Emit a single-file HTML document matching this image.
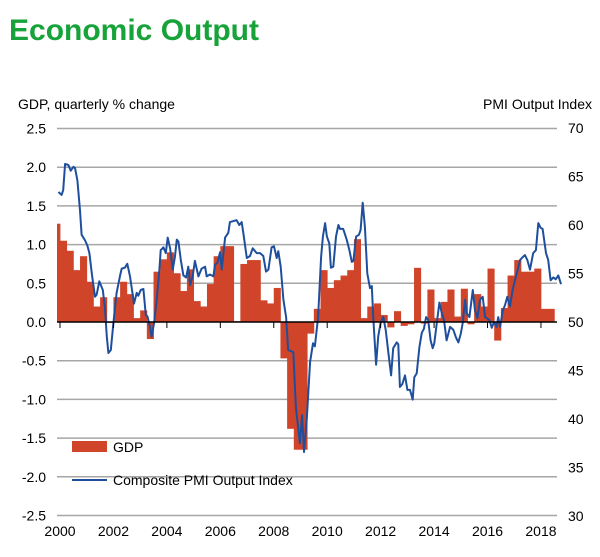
<!DOCTYPE html>
<html><head><meta charset="utf-8">
<style>
html,body{margin:0;padding:0;background:#fff;width:600px;height:557px;overflow:hidden}
svg{display:block;font-family:"Liberation Sans",Arial,sans-serif}
</style></head>
<body>
<svg id="chart" width="600" height="557" viewBox="0 0 600 557" xmlns="http://www.w3.org/2000/svg">
  <text x="9" y="40" font-size="30" font-weight="bold" fill="#17a33a">Economic Output</text>
  <text x="18" y="109" font-size="14" fill="#000">GDP, quarterly % change</text>
  <text x="592" y="109" font-size="14" fill="#000" text-anchor="end">PMI Output  Index</text>
  <g id="grid"></g>
  <g id="bars"></g>
  <g id="line"></g>
  <g id="axes"></g>
  <g>
    <rect x="72" y="441" width="35" height="11" fill="#d0442a"/>
    <text x="113" y="452" font-size="14">GDP</text>
    <line x1="72" y1="480" x2="107" y2="480" stroke="#1f4f9c" stroke-width="2"/>
    <text x="113" y="485" font-size="14">Composite PMI Output Index</text>
  </g>
</svg>
<script>
const gdpStart = 1999.75;
const gdpValues = [1.27,1.05,0.92,0.67,0.85,0.52,0.2,0.32,0.0,0.32,0.52,0.36,0.05,0.15,-0.22,0.65,0.81,0.9,0.63,0.4,0.68,0.27,0.2,0.49,0.85,0.98,0.98,0.01,0.75,0.8,0.8,0.28,0.24,0.44,-0.47,-1.38,-1.65,-1.65,-0.15,0.17,0.67,0.44,0.54,0.6,0.67,1.07,0.05,0.2,0.24,0.09,-0.07,0.14,-0.05,-0.03,0.7,-0.02,0.42,0.05,0.26,0.42,0.07,0.43,-0.03,0.36,0.2,0.69,-0.24,0.18,0.6,0.8,0.65,0.65,0.69,0.17,0.17];
const pmiDates = [1999.94,2000.06,2000.12,2000.19,2000.31,2000.40,2000.50,2000.56,2000.65,2000.75,2000.81,2000.94,2001.02,2001.10,2001.19,2001.31,2001.37,2001.47,2001.60,2001.68,2001.75,2001.81,2001.90,2002.00,2002.12,2002.25,2002.31,2002.43,2002.52,2002.62,2002.77,2002.87,2002.93,2003.02,2003.12,2003.21,2003.27,2003.37,2003.43,2003.52,2003.62,2003.72,2003.77,2003.87,2003.96,2004.03,2004.12,2004.22,2004.30,2004.37,2004.43,2004.52,2004.62,2004.72,2004.80,2004.87,2004.97,2005.05,2005.18,2005.30,2005.43,2005.49,2005.61,2005.74,2005.80,2005.89,2005.99,2006.05,2006.18,2006.30,2006.36,2006.49,2006.61,2006.71,2006.80,2006.86,2006.99,2007.11,2007.21,2007.36,2007.49,2007.61,2007.71,2007.80,2007.92,2008.01,2008.11,2008.17,2008.26,2008.36,2008.46,2008.54,2008.73,2008.83,2008.98,2009.06,2009.13,2009.24,2009.36,2009.47,2009.54,2009.66,2009.77,2009.84,2009.92,2009.99,2010.08,2010.14,2010.23,2010.33,2010.42,2010.48,2010.60,2010.73,2010.83,2010.92,2010.98,2011.08,2011.19,2011.25,2011.33,2011.41,2011.50,2011.60,2011.67,2011.73,2011.83,2011.91,2012.00,2012.10,2012.19,2012.29,2012.39,2012.47,2012.60,2012.66,2012.72,2012.81,2012.91,2013.00,2013.10,2013.20,2013.26,2013.35,2013.45,2013.54,2013.62,2013.70,2013.78,2013.87,2013.95,2014.01,2014.10,2014.20,2014.28,2014.37,2014.47,2014.60,2014.72,2014.82,2014.91,2015.00,2015.07,2015.16,2015.22,2015.32,2015.45,2015.53,2015.62,2015.72,2015.82,2015.91,2015.97,2016.07,2016.16,2016.24,2016.34,2016.40,2016.47,2016.57,2016.65,2016.74,2016.84,2016.94,2017.03,2017.13,2017.22,2017.32,2017.40,2017.49,2017.59,2017.71,2017.81,2017.90,2017.99,2018.06,2018.19,2018.27,2018.36,2018.46,2018.55,2018.65,2018.75];
const pmiValues = [63.4,63.1,63.6,66.3,66.2,65.6,66,65.9,64.6,61.5,59,58.4,57.9,57.1,55,52.6,52.8,54.2,53.3,51.5,48.5,46.8,47.1,49.9,53,54.8,55.5,55.6,56,54.7,51.9,53,52.7,53.3,53.4,50.7,50.6,49.5,48.5,49.9,52.3,55.4,57.4,57.7,57.1,58.7,57.6,55.4,56.7,58.5,58.3,56.4,54.8,54.6,55.7,53.8,54.8,56.3,54.7,55.5,55.7,54.7,54.9,54.7,55.9,56.1,57.2,55.4,58.7,59.2,60.3,60.4,60.5,60,60.3,59.2,56.6,56.8,57.6,57.1,57.1,56.8,55.2,55.4,57.7,57.8,56.6,57.3,55.7,52.3,50.5,47.1,46.9,41.2,37.5,40.4,36.6,40.2,45.9,47.8,47.5,50.5,56.7,58.8,60.2,58.8,58.1,55.6,55.7,58.8,60,59.6,59.6,58.5,57.4,56.2,56.3,58.8,59,59.5,62.3,59.8,55,53.5,53.7,50.2,45.6,48.5,49.9,50.5,49.2,46.8,44.5,47.3,47.9,47.7,43.3,43.6,44.5,43,43,42,44.3,44.7,47.4,48.9,49.3,50.5,50.2,48.1,47.3,47.8,49.9,52,51,50.2,48.1,49.5,49.2,48.4,47.9,48.8,49.9,52.3,50.9,50.5,53.3,51.2,50.4,52.3,52.6,50.5,50.4,50.2,49.4,50,49.5,50.5,49.5,51.2,51.7,52.6,51.6,53.3,54.3,55.4,56.4,56.7,56.9,56.4,55.4,57.1,57.4,60.2,59.7,59.6,57.1,56.4,54.3,54.6,54.4,54.8,53.9];
const leftTicks = [2.5,2.0,1.5,1.0,0.5,0.0,-0.5,-1.0,-1.5,-2.0,-2.5];
const rightTicks = [70,65,60,55,50,45,40,35,30];
const yearTicks = [2000,2002,2004,2006,2008,2010,2012,2014,2016,2018];

const NS='http://www.w3.org/2000/svg';
const X0=57, X1=557, Y_TOP=128, Y_BOT=515;
const xScale = yr => 60 + (yr-2000)*26.72;
const yL = v => 322 - v*77.4;
const yR = v => 322 - (v-50)*9.7;
function mk(tag, attrs, parent){const e=document.createElementNS(NS,tag);for(const k in attrs)e.setAttribute(k,attrs[k]);parent.appendChild(e);return e;}

const grid=document.getElementById('grid');
leftTicks.forEach(v=>{
  if(v!==0){
    const l=mk('line',{x1:X0,x2:X1,y1:yL(v),y2:yL(v),stroke:'#a6a6a6','stroke-width':1.5},grid);
    
    
  }
  const t=mk('text',{x:46,y:yL(v)+5,'font-size':14,'text-anchor':'end'},grid);
  t.textContent=v.toFixed(1);
  
  
});
rightTicks.forEach(v=>{
  const t=mk('text',{x:568,y:yR(v)+5,'font-size':14},grid);
  t.textContent=v;
  
  
});

const bars=document.getElementById('bars');
const qw=26.72/4;
gdpValues.forEach((v,i)=>{
  let x=xScale(gdpStart+i*0.25), w=qw+0.4;
  if(x<X0){w-= (X0-x); x=X0;}
  const y0=yL(0), y1=yL(v);
  const r=mk('rect',{x:x,y:Math.min(y0,y1),width:Math.max(w,0),height:Math.max(Math.abs(y1-y0),0.8),fill:'#d0442a'},bars);
  
  
});

const axes=document.getElementById('axes');
const zl=mk('line',{x1:X0,x2:X1,y1:yL(0),y2:yL(0),stroke:'#000','stroke-width':1.5},axes);


yearTicks.forEach(yr=>{
  const tk=mk('line',{x1:xScale(yr),x2:xScale(yr),y1:yL(0),y2:yL(0)+6,stroke:'#000','stroke-width':1},axes);
  
  
  const t=mk('text',{x:xScale(yr),y:536,'font-size':14,'text-anchor':'middle'},axes);
  t.textContent=yr;
  
  
});

const lineG=document.getElementById('line');
const d=pmiDates.map((dt,i)=>(i?'L':'M')+xScale(dt).toFixed(1)+','+yR(pmiValues[i]).toFixed(1)).join(' ');
const p=mk('path',{d:d,fill:'none',stroke:'#1f4f9c','stroke-width':2,'stroke-linejoin':'round'},lineG);


</script>
</body></html>
